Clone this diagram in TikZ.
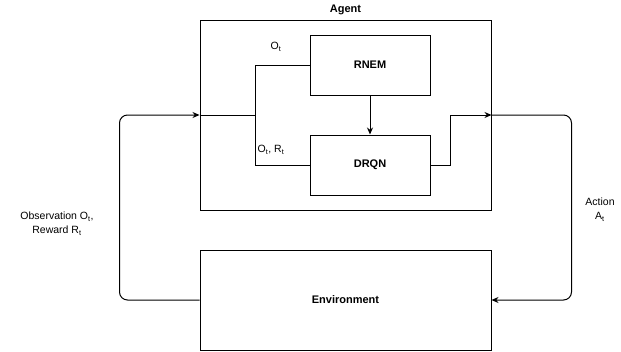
\documentclass[tikz,border=0pt]{standalone}
\usepackage{fontspec}
\setmainfont{Liberation Sans}
\usetikzlibrary{arrows.meta, positioning}

\begin{document}
\begin{tikzpicture}[
			x=1pt, y=-1pt,
			box/.style={
				draw,
				rectangle,
				align=center,
				inner sep=0pt,
				line width=1pt,
				font=\fontsize{11}{13}\selectfont\bfseries
			},
			arrow/.style={-{Stealth[length=7pt,width=6pt]}, line width=1pt},
			line/.style={line width=1pt},
			lbl/.style={align=center, inner sep=0pt, font=\fontsize{10.5}{14}\selectfont}
			]
			
			\useasboundingbox (0,0) rectangle (621,351);
			
			\node[box, minimum width=291pt, minimum height=190pt] (agent) at (345.5,115) {};
			\node[box, draw=none, above=4pt of agent] (agentlbl) {Agent};
			\node[box, minimum width=120pt, minimum height=60pt] (rnem) at (370,65) {RNEM};
			\node[box, minimum width=120pt, minimum height=60pt] (drqn) at (370,165) {DRQN};
			\node[box, minimum width=291pt, minimum height=100pt] (env) at (345.5,300) {Environment};
			
			\coordinate (split) at (255,115);
			
			\node[lbl] (ot) at (276,47) {O\textsubscript{t}};
			\node[lbl] (otrt) at (271,150) {O\textsubscript{t}, R\textsubscript{t}};
			\node[lbl] (obs) at (57,224) {Observation O\textsubscript{t},\\Reward R\textsubscript{t}};
			\node[lbl] (act) at (600,210) {Action\\A\textsubscript{t}};
			
			\draw[line] (agent.west) -- (split);
			\draw[line] (split) |- (rnem.west);
			\draw[line] (split) |- (drqn.west);
			\draw[arrow] (rnem) -- (drqn);
			\draw[arrow] (drqn.east) -- ++(20,0) |- (agent.east);
			\draw[arrow, rounded corners=8pt] (agent.east) -- ++(80,0) |- (env.east);
			\draw[arrow, rounded corners=8pt] (env.west) -- ++(-80,0) |- (agent.west);
			
		\end{tikzpicture}
\end{document}
